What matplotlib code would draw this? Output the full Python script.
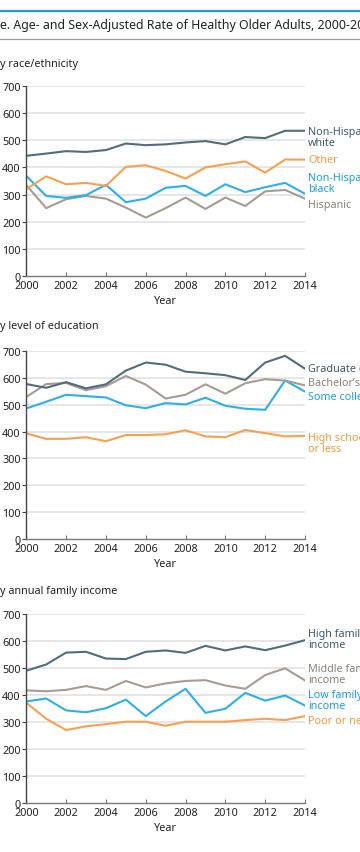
import numpy as np
import matplotlib
matplotlib.use("Agg")
import matplotlib.pyplot as plt
import matplotlib.transforms as mtransforms

plt.rcParams['font.family'] = ['Noto Sans', 'DejaVu Sans']
plt.rcParams['font.weight'] = 'medium'

# datos
years = list(range(2000, 2015))

race_labels = ["Non-Hispanic\nwhite", "Other", "Non-Hispanic\nblack", "Hispanic"]
race_white = [443, 451, 460, 457, 464, 488, 482, 485, 492, 497, 485, 512, 508, 535, 535]
race_other = [320, 367, 338, 343, 332, 402, 408, 387, 359, 400, 412, 422, 381, 429, 429]
race_black = [369, 295, 288, 298, 336, 272, 285, 325, 332, 295, 338, 309, 327, 343, 303]
race_hisp = [335, 250, 283, 295, 285, 252, 215, 250, 289, 247, 289, 258, 312, 317, 285]

edu_labels = ["Graduate degree", "Bachelor\u2019s degree", "Some college", "High school\nor less"]
edu_grad = [577, 563, 584, 561, 576, 627, 657, 649, 623, 617, 610, 592, 657, 682, 634]
edu_bach = [529, 577, 581, 554, 569, 607, 575, 523, 537, 576, 541, 580, 595, 590, 572]
edu_some = [486, 511, 537, 532, 527, 498, 487, 506, 501, 526, 496, 485, 481, 590, 549]
edu_hs = [393, 373, 373, 379, 364, 387, 387, 390, 405, 382, 379, 406, 394, 382, 384]

inc_labels = ["High family\nincome", "Middle family\nincome", "Low family\nincome", "Poor or near poor"]
inc_high = [490, 513, 557, 560, 535, 533, 560, 565, 556, 582, 565, 580, 566, 583, 603]
inc_mid = [417, 414, 419, 433, 419, 452, 428, 443, 452, 455, 435, 423, 474, 499, 454]
inc_low = [376, 387, 343, 336, 351, 383, 322, 376, 423, 334, 349, 408, 379, 398, 361]
inc_poor = [371, 312, 270, 284, 292, 301, 301, 286, 301, 301, 301, 307, 312, 307, 322]

# colores
oscuro = '#4f6e7a'
naranja = '#f7a150'
azul = '#2db0e6'
gris = '#a69c92'
txt_oscuro = '#3f5d69'
txt_naranja = '#f39a3c'
txt_azul = '#1aa0dc'
txt_gris = '#8d8379'

W, H = 360, 853
fig = plt.figure(figsize=(3.6, 8.53), dpi=100)
r = fig.canvas.get_renderer()


def ancho(s, size):
    t = fig.text(0, 0, s, fontsize=size)
    w = t.get_window_extent(r).width
    t.remove()
    return w


# caja del titulo
fig.add_artist(plt.Line2D([0, 1], [1 - 12 / H, 1 - 12 / H], color='#1f9ad6', lw=1.6))
fig.add_artist(plt.Line2D([0, 1], [1 - 40 / H, 1 - 40 / H], color='#9a9a9a', lw=0.9))
titulo = "Figure. Age- and Sex-Adjusted Rate of Healthy Older Adults, 2000-2014"
x0 = -ancho("Figur", 8.9) / W
fig.text(x0, 1 - 26 / H, titulo, fontsize=8.9, va='center', color='#222222')

paneles = [
    ("By race/ethnicity", 87, 277, 64,
     [race_white, race_other, race_black, race_hisp], race_labels,
     [oscuro, naranja, azul, gris], [txt_oscuro, txt_naranja, txt_azul, txt_gris],
     [512, 428, 341, 262]),
    ("By level of education", 352, 540, 327,
     [edu_grad, edu_bach, edu_some, edu_hs], edu_labels,
     [oscuro, gris, azul, naranja], [txt_oscuro, txt_gris, txt_azul, txt_naranja],
     [633, 581, 529, 357]),
    ("By annual family income", 615, 804, 592,
     [inc_high, inc_mid, inc_low, inc_poor], inc_labels,
     [oscuro, gris, azul, naranja], [txt_oscuro, txt_gris, txt_azul, txt_naranja],
     [609, 478, 381, 304]),
]

for sub, top, bot, ysub, series, labels, colores, colores_txt, ylab in paneles:
    ax = fig.add_axes([26.3 / W, 1 - bot / H, (305 - 26.3) / W, (bot - top) / H])
    for y in range(100, 701, 100):
        ax.axhline(y, color='#e6e6e6', lw=1.4, zorder=0)
    # orden de dibujo: el primero encima
    for s, c in reversed(list(zip(series, colores))):
        ax.plot(years, s, color=c, lw=1.5, zorder=2)
    ax.set_xlim(2000, 2014)
    ax.set_ylim(0, 700)
    ax.set_xticks(range(2000, 2015, 2))
    ax.set_yticks(range(0, 701, 100))
    for sp in ['top', 'right']:
        ax.spines[sp].set_visible(False)
    ax.spines['left'].set_color('#444444')
    ax.spines['bottom'].set_color('#777777')
    ax.spines['left'].set_linewidth(1)
    ax.spines['bottom'].set_linewidth(1)
    ax.tick_params(axis='y', direction='out', length=3, width=0.8, pad=1,
                   labelsize=7.8, colors='#444444', labelcolor='#222222')
    ax.tick_params(axis='x', direction='in', length=3, width=0.8, pad=3,
                   labelsize=7.8, colors='#777777', labelcolor='#222222')
    ax.set_xlabel('Year', fontsize=7.8, color='#222222', labelpad=3)
    # etiquetas a la derecha
    tr = mtransforms.blended_transform_factory(ax.transAxes, ax.transData)
    for lab, c, yl in zip(labels, colores_txt, ylab):
        ax.text(1.012, yl, lab, transform=tr, color=c, fontsize=7.8,
                va='center', ha='left', linespacing=1.0, clip_on=False)
    xs = -ancho("B", 7.8) / W + 0.5 / W
    fig.text(xs, 1 - ysub / H, sub, fontsize=7.8, va='center', color='#222222')

fig.savefig('out.png', dpi=100)
